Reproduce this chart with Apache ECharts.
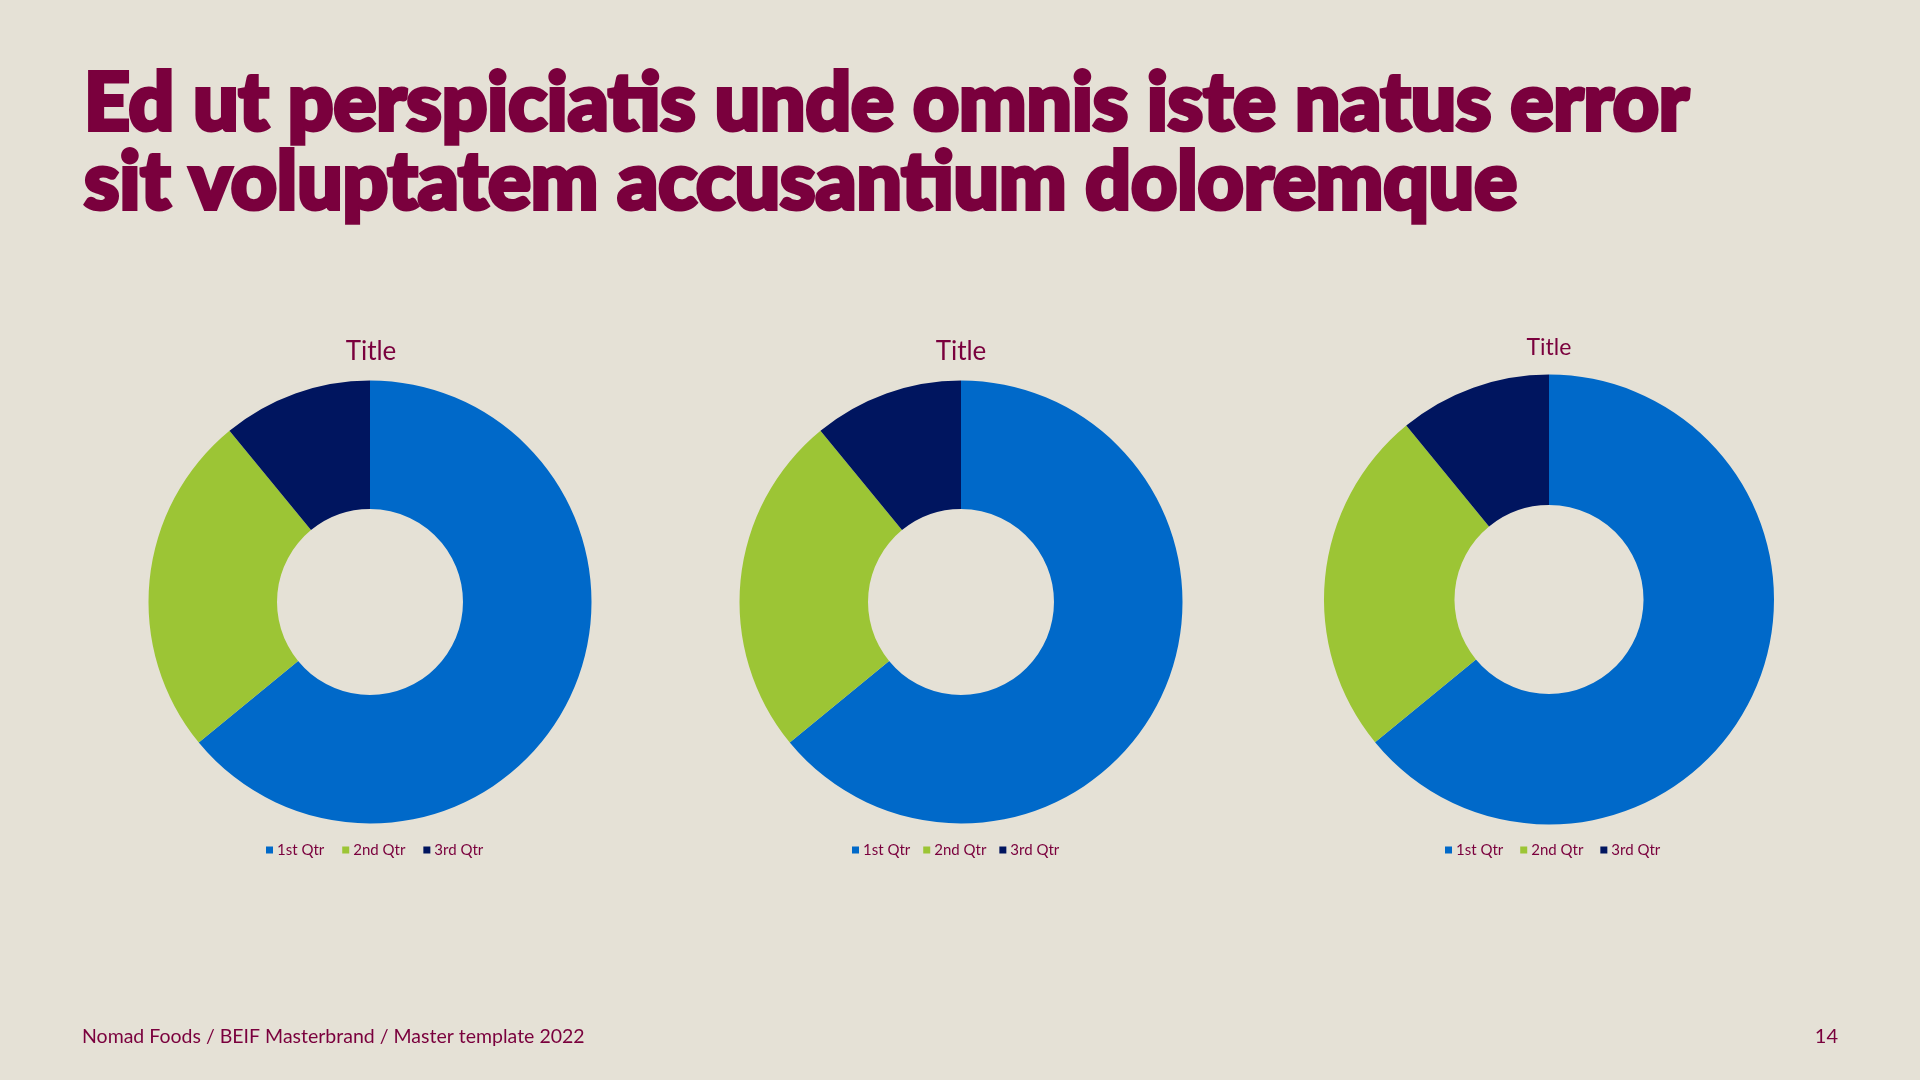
<!DOCTYPE html>
<html>
<head>
<meta charset="utf-8">
<script src="https://cdn.jsdelivr.net/npm/echarts@6/dist/echarts.min.js"></script>
<style>
html,body{margin:0;padding:0;background:#E5E1D6;}
#chart{width:1920px;height:1080px;}
</style>
</head>
<body>
<div id="chart"></div>
<script>
const headingLines = ['Ed ut perspiciatis unde omnis iste natus error', 'sit voluptatem accusantium doloremque'];
const footerText = 'Nomad Foods / BEIF Masterbrand / Master template 2022';
const pageNumber = '14';
const chartTitles = ['Title', 'Title', 'Title'];
const categories = ['1st Qtr', '2nd Qtr', '3rd Qtr'];
const values1 = [8.2, 3.2, 1.4];
const values2 = [8.2, 3.2, 1.4];
const values3 = [8.2, 3.2, 1.4];

const MAROON = '#7A003D';
const COLORS = ['#0069C9', '#9CC535', '#00155F'];
const HEAD_FONT = 'Lato, Inter, Roboto, sans-serif';
const SMALL_FONT = 'Lato, "Open Sans", sans-serif';

// measure heading to condense it horizontally to the reference width
const mc = document.createElement('canvas').getContext('2d');
mc.font = '900 80px ' + HEAD_FONT;
const w1 = mc.measureText(headingLines[0]).width;
const headScale = 1605 / w1;

const pies = [
  {vals: values1, cx: 370, cy: 602, r: 221.5, ir: 93, tx: 371, ty: 352, tfs: 26, lx: 266, lgap: 18},
  {vals: values2, cx: 961, cy: 602, r: 221.5, ir: 93, tx: 961, ty: 352, tfs: 26, lx: 852, lgap: 13},
  {vals: values3, cx: 1549, cy: 599.5, r: 225, ir: 94.5, tx: 1549, ty: 348, tfs: 23, lx: 1445, lgap: 17}
];

const chart = echarts.init(document.getElementById('chart'));
const headStyle = {fontFamily: HEAD_FONT, fontWeight: 900, fontSize: 80, fill: MAROON, stroke: MAROON, lineWidth: 4, lineJoin: 'round', verticalAlign: 'middle', align: 'left'};
const option = {
  backgroundColor: '#E5E1D6',
  color: COLORS,
  animation: false,
  legend: pies.map(p => ({
    data: categories,
    left: p.lx,
    top: 842,
    padding: 0,
    icon: 'rect',
    itemWidth: 7,
    itemHeight: 7,
    itemGap: p.lgap,
    textStyle: {color: MAROON, fontFamily: SMALL_FONT, fontSize: 15, lineHeight: 16, padding: [0, 0, 0, -1]}
  })),
  series: pies.map(p => ({
    type: 'pie',
    center: [p.cx, p.cy],
    radius: [p.ir, p.r],
    startAngle: 90,
    clockwise: true,
    label: {show: false},
    labelLine: {show: false},
    emphasis: {disabled: true},
    itemStyle: {borderWidth: 0},
    data: categories.map((c, i) => ({name: c, value: p.vals[i]}))
  })),
  graphic: [
    {type: 'text', x: 84, y: 104, scaleX: headScale, silent: true,
     style: Object.assign({text: headingLines[0]}, headStyle)},
    {type: 'text', x: 84, y: 183, scaleX: headScale, silent: true,
     style: Object.assign({text: headingLines[1]}, headStyle)},
    {type: 'text', x: 82, y: 1037, silent: true,
     style: {text: footerText, fontFamily: SMALL_FONT, fontSize: 19.5, fill: MAROON, verticalAlign: 'middle', align: 'left'}},
    {type: 'text', x: 1838, y: 1037, silent: true,
     style: {text: pageNumber, fontFamily: SMALL_FONT, fontSize: 20, fill: MAROON, verticalAlign: 'middle', align: 'right'}}
  ].concat(pies.map((p, i) => ({
    type: 'text', x: p.tx, y: p.ty, silent: true,
    style: {text: chartTitles[i], fontFamily: SMALL_FONT, fontSize: p.tfs, fill: MAROON, verticalAlign: 'middle', align: 'center'}
  })))
};
chart.setOption(option);
</script>
</body>
</html>
